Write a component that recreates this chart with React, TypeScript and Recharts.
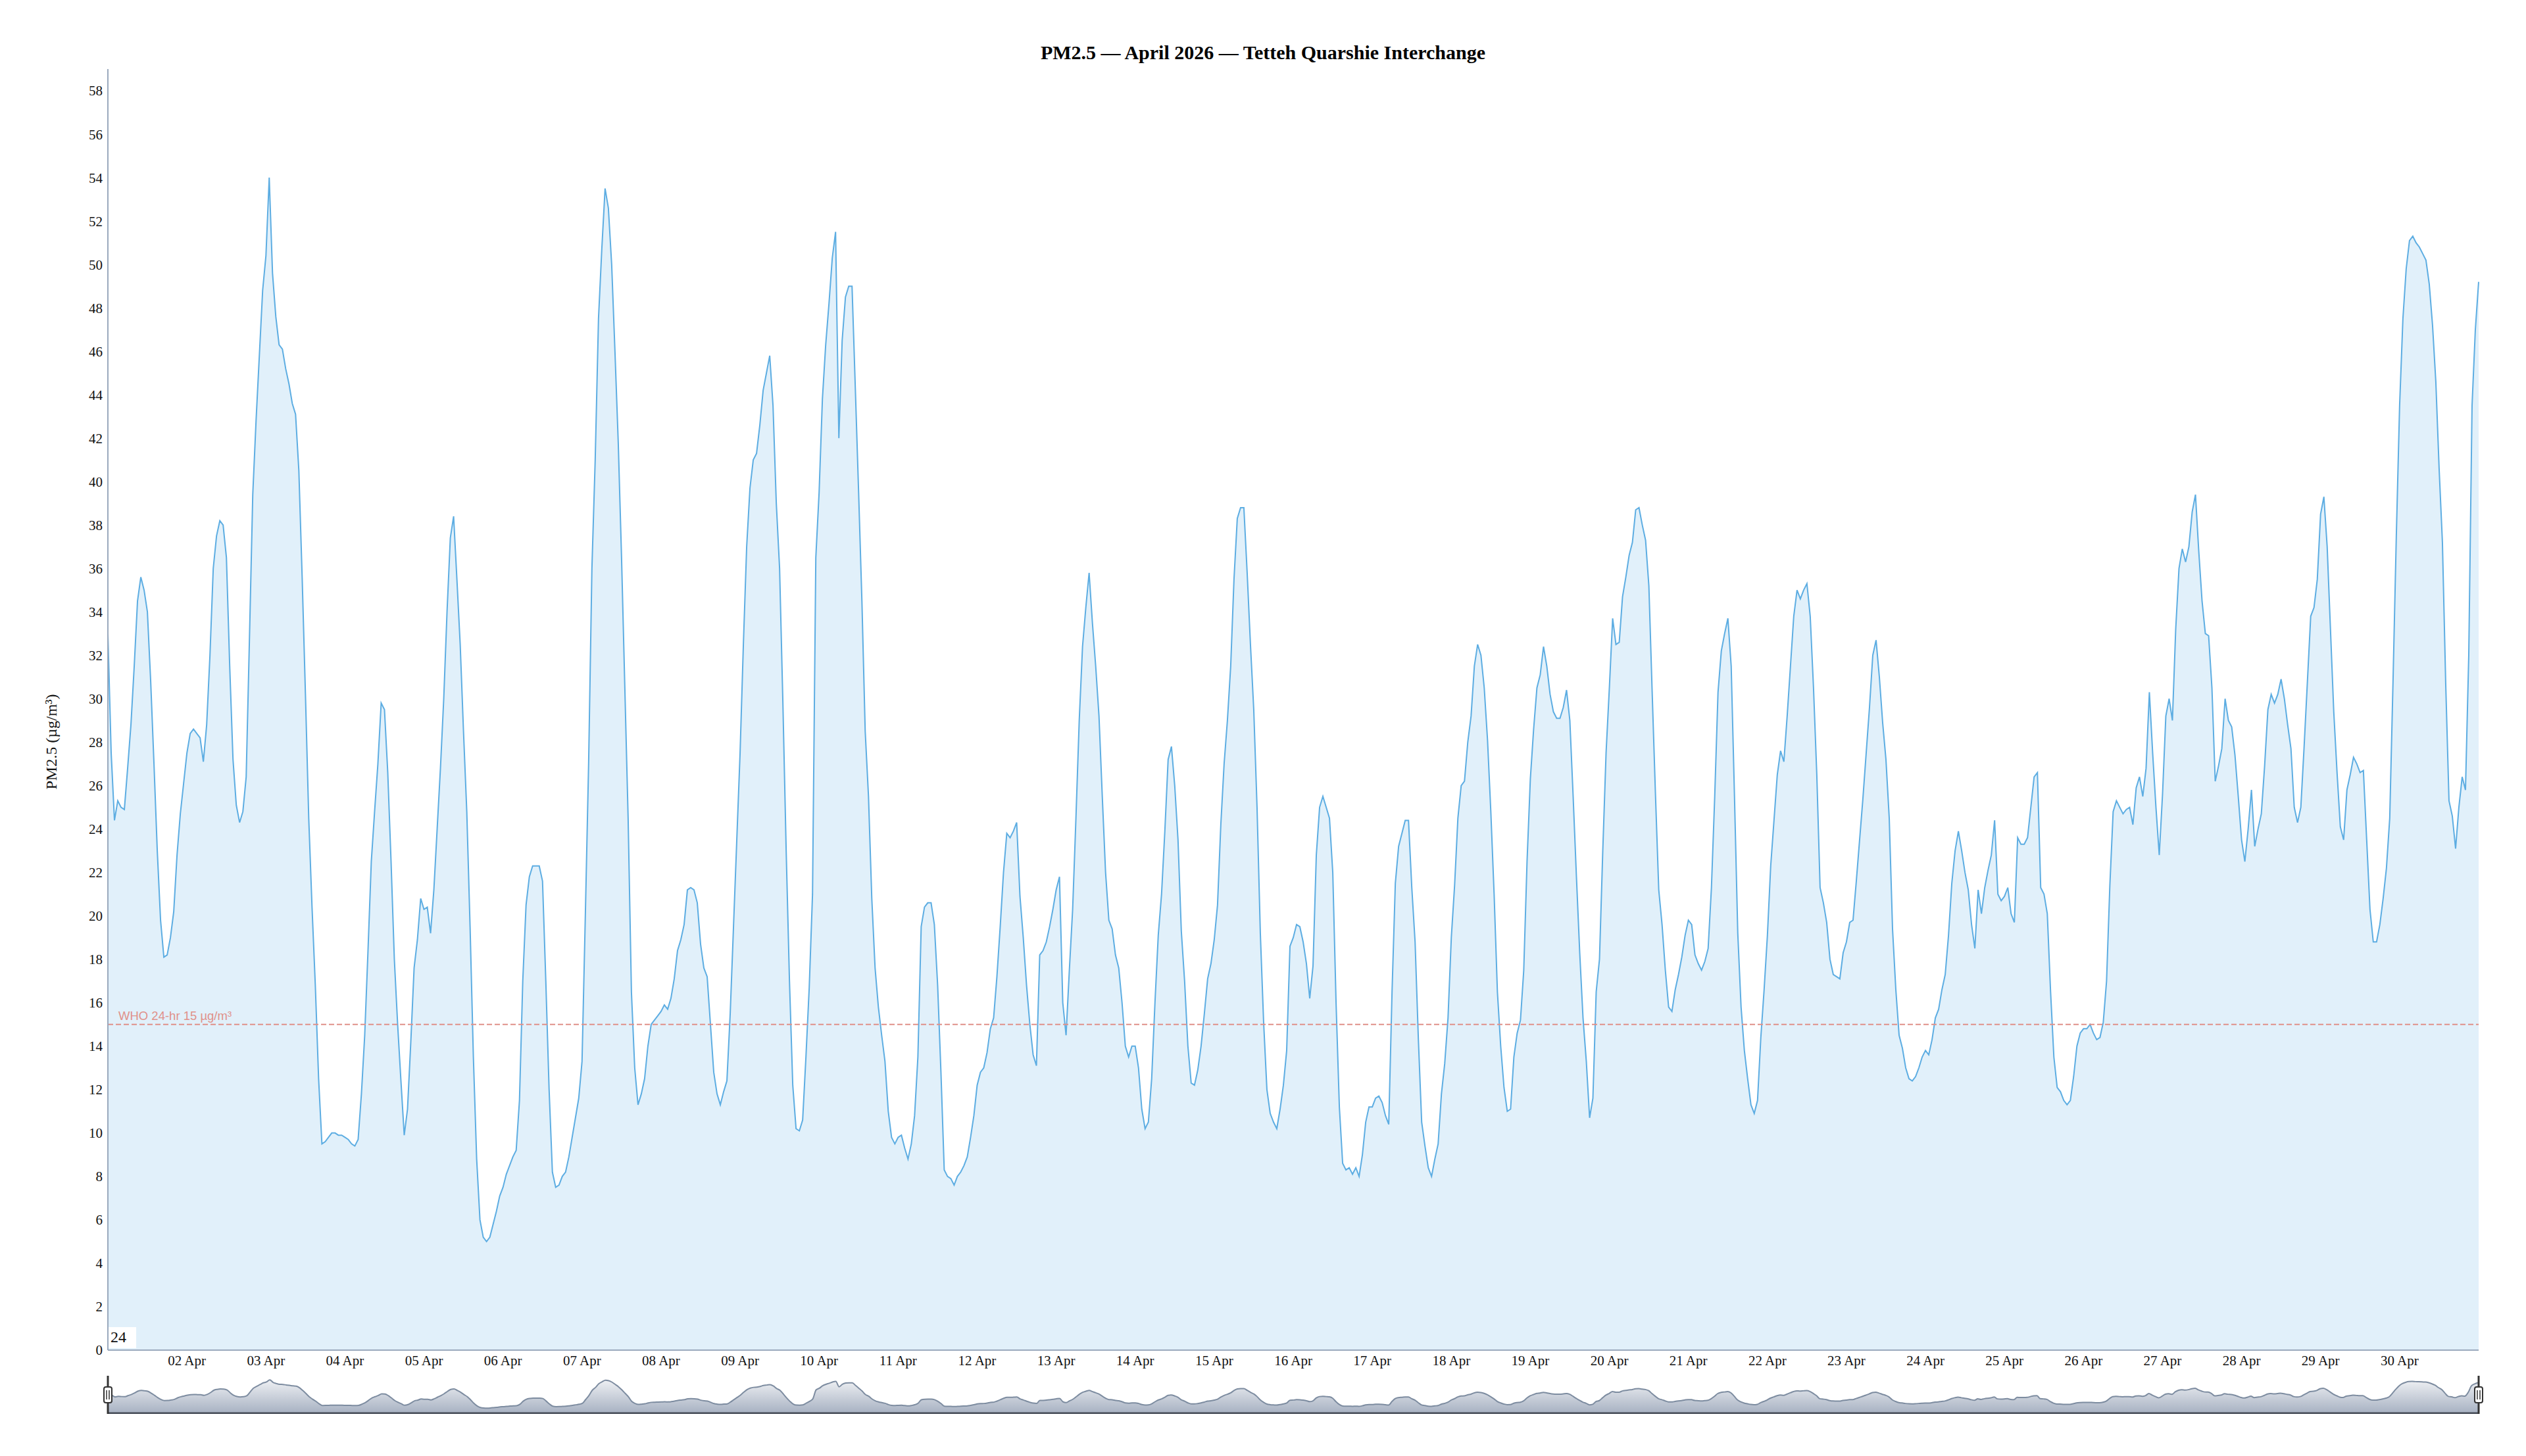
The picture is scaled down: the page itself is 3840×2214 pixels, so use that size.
import React from "react";
import { AreaChart, Area, XAxis, YAxis, ReferenceLine, Brush } from "recharts";

// hourly PM2.5 (µg/m³), 01 Apr 00:00 -> 01 May 00:00
const pm25Hourly = [
  33, 27.5, 24.4, 25.3, 25.0, 24.9, 26.8, 28.8, 31.5, 34.5, 35.6, 35.0, 34.0, 30.8, 27.0, 23.0, 19.8, 18.1, 18.2, 19.0, 20.2, 22.8, 24.7, 26.1,
  27.5, 28.4, 28.6, 28.4, 28.2, 27.1, 28.8, 32.0, 36.0, 37.5, 38.2, 38.0, 36.5, 31.5, 27.2, 25.1, 24.3, 24.8, 26.4, 32.8, 39.4, 42.8, 45.8, 48.8,
  50.4, 54.0, 49.6, 47.6, 46.3, 46.1, 45.2, 44.5, 43.6, 43.1, 40.5, 35.6, 30.2, 24.5, 20.4, 16.8, 12.5, 9.5, 9.6, 9.8, 10.0, 10.0, 9.9, 9.9,
  9.8, 9.7, 9.5, 9.4, 9.7, 11.8, 14.5, 18.4, 22.5, 24.8, 27.0, 29.8, 29.5, 26.6, 22.5, 18.0, 15.0, 12.4, 9.9, 11.1, 14.2, 17.6, 18.9, 20.8,
  20.3, 20.4, 19.2, 21.2, 24.0, 26.8, 30.0, 34.0, 37.4, 38.4, 35.5, 32.5, 28.5, 24.8, 19.5, 13.5, 8.8, 6.0, 5.2, 5.0, 5.2, 5.8, 6.4, 7.1,
  7.5, 8.1, 8.5, 8.9, 9.2, 11.5, 17.0, 20.5, 21.8, 22.3, 22.3, 22.3, 21.6, 17.0, 12.0, 8.2, 7.5, 7.6, 8.0, 8.2, 8.9, 9.8, 10.7, 11.6,
  13.3, 20.0, 27.0, 36.0, 41.0, 47.5, 50.7, 53.5, 52.6, 50.0, 46.0, 41.8, 36.5, 30.5, 24.5, 16.5, 13.0, 11.3, 11.8, 12.5, 14.0, 15.0, 15.2, 15.4,
  15.6, 15.9, 15.7, 16.2, 17.1, 18.4, 18.9, 19.6, 21.2, 21.3, 21.2, 20.6, 18.7, 17.6, 17.2, 15.0, 12.8, 11.8, 11.3, 11.9, 12.4, 15.5, 19.5, 23.5,
  27.5, 32.5, 37.0, 39.7, 41.0, 41.3, 42.6, 44.2, 45.0, 45.8, 43.5, 39.0, 36.0, 29.8, 23.0, 17.0, 12.2, 10.2, 10.1, 10.6, 13.5, 16.7, 21.0, 36.5,
  39.5, 43.8, 46.3, 48.2, 50.3, 51.5, 42.0, 46.5, 48.5, 49.0, 49.0, 44.3, 39.5, 34.5, 28.5, 25.5, 20.8, 17.6, 15.8, 14.5, 13.3, 11.0, 9.8, 9.5,
  9.8, 9.9, 9.3, 8.8, 9.5, 10.8, 13.5, 19.5, 20.4, 20.6, 20.6, 19.6, 16.8, 12.8, 8.3, 8.0, 7.9, 7.6, 8.0, 8.2, 8.5, 8.9, 9.8, 10.8,
  12.2, 12.8, 13.0, 13.7, 14.8, 15.3, 17.2, 19.5, 22.0, 23.8, 23.6, 23.9, 24.3, 20.9, 19.0, 16.8, 15.0, 13.6, 13.1, 18.2, 18.4, 18.8, 19.5, 20.3,
  21.2, 21.8, 16.0, 14.5, 17.5, 20.3, 24.5, 29.0, 32.4, 34.2, 35.8, 33.5, 31.5, 29.2, 25.5, 22.0, 19.8, 19.4, 18.2, 17.6, 16.0, 14.0, 13.5, 14.0,
  14.0, 13.0, 11.1, 10.2, 10.5, 12.5, 16.0, 19.1, 21.0, 23.9, 27.2, 27.8, 26.0, 23.5, 19.3, 17.0, 14.0, 12.3, 12.2, 12.9, 14.0, 15.5, 17.1, 17.8,
  18.9, 20.5, 24.2, 27.0, 29.0, 31.5, 35.5, 38.3, 38.8, 38.8, 35.8, 32.5, 29.5, 25.0, 19.2, 15.1, 12.0, 10.9, 10.5, 10.2, 11.1, 12.2, 13.8, 18.6,
  19.0, 19.6, 19.5, 18.8, 17.8, 16.2, 17.7, 22.8, 25.0, 25.5, 25.0, 24.5, 22.0, 16.0, 11.2, 8.6, 8.3, 8.4, 8.1, 8.4, 8.0, 9.0, 10.5, 11.2,
  11.2, 11.6, 11.7, 11.4, 10.8, 10.4, 16.5, 21.5, 23.2, 23.8, 24.4, 24.4, 21.3, 18.8, 14.3, 10.5, 9.4, 8.4, 8.0, 8.8, 9.5, 11.8, 13.2, 15.3,
  19.0, 21.4, 24.5, 26.0, 26.2, 28.0, 29.2, 31.5, 32.5, 32.0, 30.5, 28.1, 24.8, 21.0, 16.5, 14.0, 12.1, 11.0, 11.1, 13.5, 14.6, 15.2, 17.5, 22.5,
  26.3, 28.6, 30.5, 31.1, 32.4, 31.5, 30.2, 29.4, 29.1, 29.1, 29.6, 30.4, 29.0, 25.5, 21.8, 18.3, 15.3, 13.3, 10.7, 11.6, 16.5, 18.0, 23.0, 27.5,
  30.5, 33.7, 32.5, 32.6, 34.7, 35.6, 36.6, 37.2, 38.7, 38.8, 38.0, 37.3, 35.2, 30.3, 25.6, 21.2, 19.6, 17.5, 15.8, 15.6, 16.6, 17.3, 18.1, 19.1,
  19.8, 19.6, 18.2, 17.8, 17.5, 17.9, 18.5, 21.3, 25.5, 30.3, 32.2, 33.0, 33.7, 31.5, 25.5, 19.2, 15.8, 13.8, 12.5, 11.3, 10.9, 11.5, 14.4, 16.6,
  19.1, 22.3, 24.4, 26.5, 27.6, 27.1, 29.2, 31.5, 33.8, 35.0, 34.6, 35.0, 35.3, 33.8, 30.5, 26.5, 21.3, 20.6, 19.7, 18.0, 17.3, 17.2, 17.1, 18.3,
  18.8, 19.7, 19.8, 21.6, 23.5, 25.4, 27.5, 29.6, 32.0, 32.7, 31.0, 28.9, 27.2, 24.5, 19.4, 16.6, 14.5, 13.9, 13.0, 12.5, 12.4, 12.6, 13.0, 13.5,
  13.8, 13.6, 14.3, 15.3, 15.7, 16.6, 17.3, 19.1, 21.5, 23.0, 23.9, 23.0, 22.0, 21.2, 19.6, 18.5, 21.2, 20.1, 21.3, 22.1, 22.8, 24.4, 21.0, 20.7,
  20.9, 21.3, 20.1, 19.7, 23.6, 23.3, 23.3, 23.6, 25.0, 26.4, 26.6, 21.3, 21.0, 20.1, 16.5, 13.5, 12.1, 11.9, 11.5, 11.3, 11.5, 12.6, 14.0, 14.6,
  14.8, 14.8, 15.0, 14.6, 14.3, 14.4, 15.1, 17.0, 21.4, 24.8, 25.3, 25.0, 24.7, 24.9, 25.0, 24.2, 25.9, 26.4, 25.5, 26.8, 30.3, 27.5, 25.0, 22.8,
  25.6, 29.2, 30.0, 29.0, 33.2, 36.0, 36.9, 36.3, 37.0, 38.6, 39.4, 36.8, 34.5, 33.0, 32.9, 30.5, 26.2, 26.9, 27.7, 30.0, 29.0, 28.7, 27.4, 25.5,
  23.5, 22.5, 24.0, 25.8, 23.2, 24.0, 24.7, 26.9, 29.5, 30.2, 29.8, 30.2, 30.9, 30.0, 28.8, 27.7, 25.0, 24.3, 25.0, 27.8, 30.8, 33.8, 34.2, 35.5,
  38.5, 39.3, 37.0, 33.2, 29.4, 26.6, 24.1, 23.5, 25.8, 26.5, 27.3, 27.0, 26.6, 26.7, 23.5, 20.3, 18.8, 18.8, 19.6, 20.8, 22.2, 24.5, 30.8, 37.5,
  43.5, 47.5, 49.8, 51.1, 51.3, 51.0, 50.8, 50.5, 50.2, 49.1, 47.2, 44.6, 40.6, 37.2, 30.7, 25.3, 24.6, 23.1, 25.0, 26.4, 25.8, 32.0, 43.5, 47.0,
  49.2,
];

const yTicks = [0, 2, 4, 6, 8, 10, 12, 14, 16, 18, 20, 22, 24, 26, 28, 30, 32, 34, 36, 38, 40, 42, 44, 46, 48, 50, 52, 54, 56, 58];

const xTickHours = [24, 48, 72, 96, 120, 144, 168, 192, 216, 240, 264, 288, 312, 336, 360, 384, 408, 432, 456, 480, 504, 528, 552, 576, 600, 624, 648, 672, 696];
const xTickLabels = [
  "02 Apr", "03 Apr", "04 Apr", "05 Apr", "06 Apr", "07 Apr", "08 Apr", "09 Apr", "10 Apr", "11 Apr",
  "12 Apr", "13 Apr", "14 Apr", "15 Apr", "16 Apr", "17 Apr", "18 Apr", "19 Apr", "20 Apr", "21 Apr",
  "22 Apr", "23 Apr", "24 Apr", "25 Apr", "26 Apr", "27 Apr", "28 Apr", "29 Apr", "30 Apr",
];

const whoLimit = 15;

const rows = pm25Hourly.map((pm, h) => ({ h, pm }));

const axisColor = "#9aa9bd";
const whoColor = "#e0918a";

function BrushHandle(props: any) {
  const { x, y, width, height } = props;
  const lx = x < 1000 ? x : x + width;
  const cy = y + height / 2;
  return (
    <g>
      <line x1={lx} x2={lx} y1={y} y2={y + height} stroke="#333" strokeWidth={3} />
      <rect x={lx - 6} y={cy - 12} width={12} height={24} rx={3} fill="#fff" stroke="#333" strokeWidth={2} />
      <line x1={lx - 2} x2={lx - 2} y1={cy - 7} y2={cy + 7} stroke="#333" strokeWidth={1.5} />
      <line x1={lx + 2} x2={lx + 2} y1={cy - 7} y2={cy + 7} stroke="#333" strokeWidth={1.5} />
    </g>
  );
}

function WhoLabel(props: any) {
  const vb = props.viewBox || { x: 156, y: 0 };
  return (
    <text x={vb.x + 16} y={vb.y - 7} fill={whoColor} fontSize={18.5} fontFamily="Liberation Sans, Arial, sans-serif">
      WHO 24-hr 15 µg/m³
    </text>
  );
}

export default function App() {
  return (
    <div style={{ position: "relative", width: 3824, height: 2198 }}>
      <div
        style={{
          position: "absolute", top: 57, left: 0, width: "100%", textAlign: "center",
          fontFamily: "serif", fontWeight: "bold", fontSize: 30, lineHeight: "30px",
        }}
      >
        PM2.5 — April 2026 — Tetteh Quarshie Interchange
      </div>
      <div
        style={{
          position: "absolute", left: 70, top: 1120, transform: "translate(-50%, -50%) rotate(-90deg)",
          whiteSpace: "nowrap", fontFamily: "serif", fontSize: 24, color: "#111",
        }}
      >
        PM2.5 (µg/m³)
      </div>

      <AreaChart width={3824} height={2190} data={rows} margin={{ top: 97, right: 64, bottom: 48, left: 80 }}>
        <defs>
          <linearGradient id="panoFill" x1="0" y1="0" x2="0" y2="1">
            <stop offset="0%" stopColor="#eef0f3" />
            <stop offset="100%" stopColor="#a7b1c2" />
          </linearGradient>
        </defs>
        <XAxis
          xAxisId="main"
          dataKey="h"
          type="number"
          domain={[0, 720]}
          ticks={xTickHours}
          interval={0}
          tickFormatter={(h) => xTickLabels[xTickHours.indexOf(h)]}
          height={39}
          tickLine={false}
          axisLine={{ stroke: axisColor, strokeWidth: 2 }}
          tick={{ fill: "#111", fontSize: 21 }}
        />
        <YAxis
          yAxisId="main"
          domain={[0, 59]}
          ticks={yTicks}
          interval={0}
          width={76}
          tickLine={false}
          axisLine={{ stroke: axisColor, strokeWidth: 2 }}
          tick={{ fill: "#111", fontSize: 21 }}
        />
        <Area
          xAxisId="main"
          yAxisId="main"
          type="linear"
          dataKey="pm"
          stroke="#5dade2"
          strokeWidth={2}
          fill="#3498db"
          fillOpacity={0.15}
          dot={false}
          activeDot={false}
          isAnimationActive={false}
        />
        <ReferenceLine
          xAxisId="main"
          yAxisId="main"
          y={whoLimit}
          stroke={whoColor}
          strokeWidth={2}
          strokeDasharray="8 4"
          label={<WhoLabel />}
        />
        <Brush
          dataKey="h"
          height={58}
          stroke="none"
          fill="none"
          travellerWidth={12}
          traveller={(p: any) => <BrushHandle {...p} />}
          startIndex={0}
          endIndex={rows.length - 1}
        >
          <AreaChart data={rows}>
            <XAxis xAxisId="pano" hide dataKey="h" type="number" domain={[0, 720]} />
            <YAxis yAxisId="pano" hide domain={[-4, 60]} />
            <Area
              xAxisId="pano"
              yAxisId="pano"
              type="monotone"
              dataKey="pm"
              stroke="#7d8ca0"
              strokeWidth={2}
              fill="url(#panoFill)"
              fillOpacity={1}
              baseValue="dataMin"
              dot={false}
              isAnimationActive={false}
            />
            <ReferenceLine xAxisId="pano" yAxisId="pano" y={-4} stroke="#444a55" strokeWidth={3} />
          </AreaChart>
        </Brush>
      </AreaChart>

      <div
        style={{
          position: "absolute", left: 157, top: 2010, width: 39, height: 29, paddingLeft: 3, paddingTop: 3,
          background: "#fff", fontFamily: "serif", fontSize: 24, lineHeight: "24px", color: "#111",
        }}
      >
        24
      </div>
    </div>
  );
}
